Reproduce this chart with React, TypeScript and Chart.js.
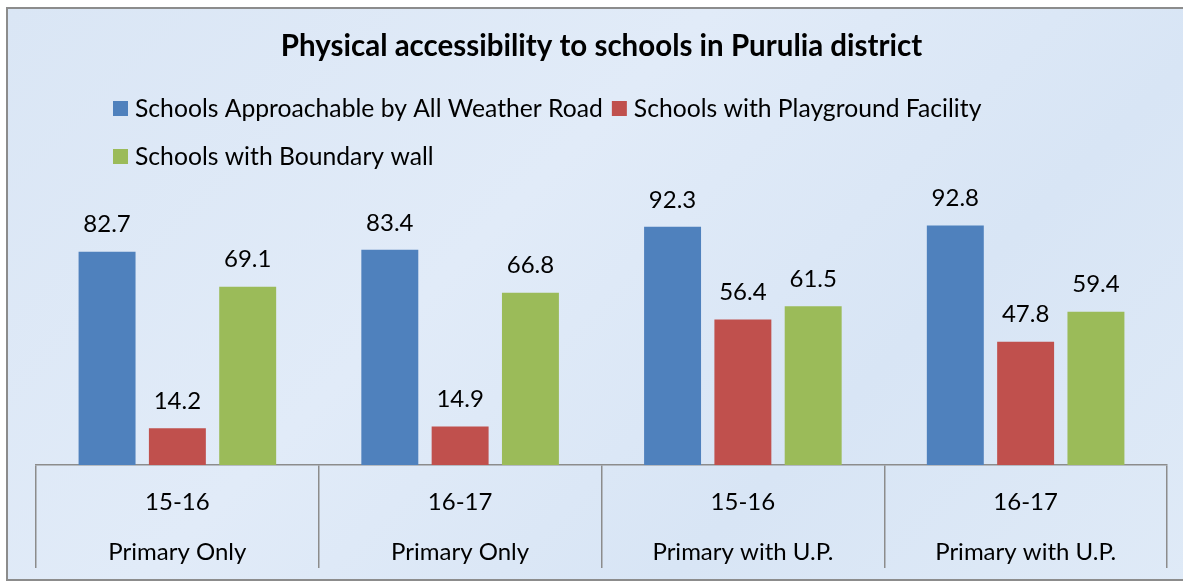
import React, { useEffect, useRef } from "react";
import { Chart, registerables } from "chart.js";

Chart.register(...registerables);

const categories: string[][] = [
  ["15-16", "Primary Only"],
  ["16-17", "Primary Only"],
  ["15-16", "Primary with U.P."],
  ["16-17", "Primary with U.P."],
];
const seriesNames = [
  "Schools Approachable by All Weather Road",
  "Schools with Playground Facility",
  "Schools with Boundary wall",
];
const roadValues = [82.7, 83.4, 92.3, 92.8];
const playgroundValues = [14.2, 14.9, 56.4, 47.8];
const wallValues = [69.1, 66.8, 61.5, 59.4];
const seriesColors = ["#4f81bd", "#c0504d", "#9bbb59"];
const titleText = "Physical accessibility to schools in Purulia district";

const FONT = "Lato, 'Noto Sans', sans-serif";

const valueLabelPlugin = {
  id: "valueLabels",
  afterDatasetsDraw(chart: any) {
    const ctx = chart.ctx;
    ctx.save();
    ctx.font = `24px ${FONT}`;
    ctx.fillStyle = "#000";
    ctx.textAlign = "center";
    ctx.textBaseline = "middle";
    chart.data.datasets.forEach((ds: any, i: number) => {
      const meta = chart.getDatasetMeta(i);
      meta.data.forEach((bar: any, j: number) => {
        ctx.fillText(String(ds.data[j]), bar.x, bar.y - 27);
      });
    });
    ctx.restore();
  },
};

const axisLabelPlugin = {
  id: "axisLabels",
  afterDraw(chart: any) {
    const ctx = chart.ctx;
    const xs = chart.scales.x;
    ctx.save();
    ctx.font = `24px ${FONT}`;
    ctx.fillStyle = "#000";
    ctx.textAlign = "center";
    ctx.textBaseline = "middle";
    const base = chart.chartArea.bottom;
    (chart.data.labels as string[][]).forEach((lines, i) => {
      const x = xs.getPixelForValue(i);
      lines.forEach((line, k) => {
        ctx.fillText(line, x, base + 37 + k * 50);
      });
    });
    ctx.restore();
  },
};

const legendPlugin = {
  id: "customLegend",
  afterDraw(chart: any) {
    const ctx = chart.ctx;
    ctx.save();
    ctx.font = `24.7px ${FONT}`;
    ctx.textBaseline = "middle";
    ctx.textAlign = "left";
    const rows = [
      { y: 100, items: [0, 1] },
      { y: 148, items: [2] },
    ];
    rows.forEach((row) => {
      let x = 105;
      row.items.forEach((idx) => {
        ctx.fillStyle = seriesColors[idx];
        ctx.fillRect(x, row.y - 8, 15, 15);
        ctx.fillStyle = "#000";
        ctx.fillText(seriesNames[idx], x + 22, row.y);
        x += 22 + ctx.measureText(seriesNames[idx]).width + 9;
      });
    });
    ctx.restore();
  },
};

export default function App() {
  const ref = useRef<HTMLCanvasElement | null>(null);
  useEffect(() => {
    if (!ref.current) return;
    const chart = new Chart(ref.current, {
      type: "bar",
      data: {
        labels: categories,
        datasets: [
          { label: seriesNames[0], data: roadValues, backgroundColor: seriesColors[0] },
          { label: seriesNames[1], data: playgroundValues, backgroundColor: seriesColors[1] },
          { label: seriesNames[2], data: wallValues, backgroundColor: seriesColors[2] },
        ],
      },
      options: {
        animation: false,
        responsive: false,
        maintainAspectRatio: false,
        layout: { padding: { left: 28, right: 29, top: 0, bottom: 11 } },
        datasets: { bar: { categoryPercentage: 0.746, barPercentage: 0.81 } } as any,
        plugins: {
          legend: { display: false },
          tooltip: { enabled: false },
          title: {
            display: true,
            text: titleText,
            color: "#000",
            font: { family: FONT, size: 29.5, weight: "bold", lineHeight: 1.2 },
            padding: { top: 20, bottom: 142.6 },
          },
        },
        scales: {
          y: { display: false, min: 0, max: 100 },
          x: {
            border: { display: true, color: "#8c8c8c", width: 1.5 },
            grid: {
              display: true,
              drawOnChartArea: false,
              drawTicks: true,
              tickLength: 103,
              color: "#8c8c8c",
              lineWidth: 1.5,
              offset: true,
            },
            ticks: { display: false },
          },
        },
      },
      plugins: [valueLabelPlugin, axisLabelPlugin, legendPlugin],
    });
    return () => chart.destroy();
  }, []);
  return (
    <div
      style={{
        position: "fixed",
        left: 0,
        top: 0,
        width: "100vw",
        height: "100vh",
        overflow: "hidden",
      }}
    >
      <div
        style={{
          position: "absolute",
          left: 6,
          top: 7,
          width: 1188,
          height: 570,
          borderTop: "2px solid #8c8c8c",
          borderLeft: "2px solid #8c8c8c",
          borderBottom: "2px solid #8c8c8c",
          borderRight: "none",
          background:
            "linear-gradient(135deg, #dae6f5 0%, #e1ebf8 40%, #d8e5f5 70%, #dfeaf7 100%)",
        }}
      >
        <canvas ref={ref} width={1188} height={570} style={{ display: "block" }} />
      </div>
    </div>
  );
}
